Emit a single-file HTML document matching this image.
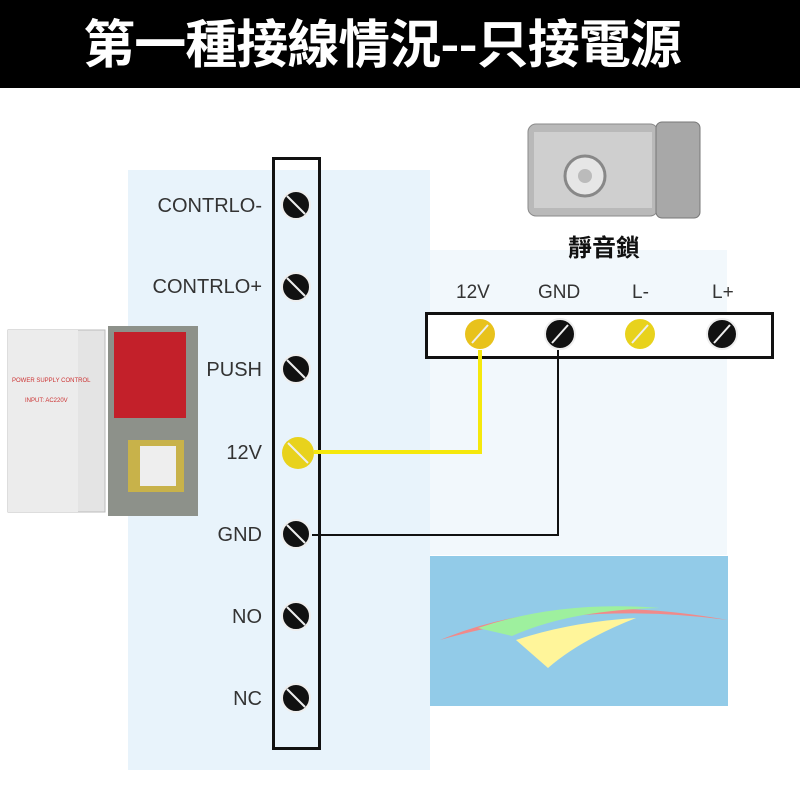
<!DOCTYPE html>
<html><head><meta charset="utf-8"><style>
body{margin:0;width:800px;height:800px;background:#fff;position:relative;overflow:hidden;font-family:"Liberation Sans","Noto Sans CJK TC",sans-serif}
.a{position:absolute}
.lab{position:absolute;font-size:20px;color:#333;text-align:right;width:140px}
</style></head><body>
<div class="a" style="left:0;top:0;width:800px;height:88px;background:#000"></div>
<div class="a" style="left:0;top:8px;width:764px;text-align:center;color:#fff;font-size:52px;font-weight:bold;font-family:'Noto Sans CJK TC',sans-serif;line-height:66px;letter-spacing:-1px">第一種接線情況--只接電源</div>
<div class="a" style="left:128px;top:170px;width:302px;height:600px;background:#e8f3fb"></div>
<div class="a" style="left:430px;top:250px;width:297px;height:305px;background:#f2f8fc"></div>
<div class="a" style="left:430px;top:556px;width:298px;height:150px;background:#92cbe8"></div>
<svg class="a" style="left:0;top:0" width="800" height="800">
<path d="M440 640 Q560 590 728 620 Q580 600 440 640Z" fill="#f08a8a"/>
<path d="M478 628 Q560 600 660 608 Q570 610 512 636Z" fill="#9ef09e"/>
<path d="M516 640 Q570 622 636 618 Q580 640 548 668Z" fill="#fff59a"/>
<rect x="528" y="124" width="130" height="92" rx="8" fill="#b9b9b9" stroke="#8a8a8a"/>
<rect x="534" y="132" width="118" height="76" fill="#cfcfcf"/>
<rect x="656" y="122" width="44" height="96" rx="6" fill="#a8a8a8" stroke="#777"/>
<circle cx="585" cy="176" r="20" fill="#e6e6e6" stroke="#888" stroke-width="3"/>
<circle cx="585" cy="176" r="7" fill="#bbb"/>
<rect x="8" y="330" width="97" height="182" fill="#e4e4e4" stroke="#bbb"/>
<rect x="8" y="330" width="70" height="182" fill="#ececec"/>
<text x="12" y="382" font-size="6" fill="#c33" font-family="Liberation Sans">POWER SUPPLY CONTROL</text>
<text x="25" y="402" font-size="6" fill="#c33" font-family="Liberation Sans">INPUT: AC220V</text>
<rect x="108" y="326" width="90" height="190" fill="#8d918a"/>
<rect x="114" y="332" width="72" height="86" fill="#c3202a"/>
<rect x="128" y="440" width="56" height="52" fill="#c8b24a"/>
<rect x="140" y="446" width="36" height="40" fill="#eee"/>
<rect x="273.5" y="158.5" width="46" height="590" fill="none" stroke="#111" stroke-width="3"/>
<g stroke="#eee" stroke-width="2">
<circle cx="296" cy="205" r="14" fill="#111"/><line x1="287" y1="196" x2="305" y2="214"/>
<circle cx="296" cy="287" r="14" fill="#111"/><line x1="287" y1="278" x2="305" y2="296"/>
<circle cx="296" cy="369" r="14" fill="#111"/><line x1="287" y1="360" x2="305" y2="378"/>
<circle cx="298" cy="453" r="16" fill="#e8d21c" stroke="none"/><line x1="288" y1="443" x2="308" y2="463"/>
<circle cx="296" cy="534" r="14" fill="#111"/><line x1="287" y1="525" x2="305" y2="543"/>
<circle cx="296" cy="616" r="14" fill="#111"/><line x1="287" y1="607" x2="305" y2="625"/>
<circle cx="296" cy="698" r="14" fill="#111"/><line x1="287" y1="689" x2="305" y2="707"/>
</g>
<rect x="426.5" y="313.5" width="346" height="44" fill="#fff" stroke="#111" stroke-width="3"/>
<g stroke="#eee" stroke-width="2">
<circle cx="480" cy="334" r="15" fill="#e8c21c" stroke="none"/><line x1="472" y1="343" x2="488" y2="325"/>
<circle cx="560" cy="334" r="15" fill="#111"/><line x1="552" y1="343" x2="568" y2="325"/>
<circle cx="640" cy="334" r="15" fill="#e8d21c" stroke="none"/><line x1="632" y1="343" x2="648" y2="325"/>
<circle cx="722" cy="334" r="15" fill="#111"/><line x1="714" y1="343" x2="730" y2="325"/>
</g>
<polyline points="314,452 480,452 480,350" fill="none" stroke="#f5e80c" stroke-width="4"/>
<polyline points="312,535 558,535 558,350" fill="none" stroke="#111" stroke-width="2"/>
</svg>
<div class="lab" style="left:122px;top:195px">CONTRLO-</div>
<div class="lab" style="left:122px;top:276px">CONTRLO+</div>
<div class="lab" style="left:122px;top:359px">PUSH</div>
<div class="lab" style="left:122px;top:442px">12V</div>
<div class="lab" style="left:122px;top:524px">GND</div>
<div class="lab" style="left:122px;top:606px">NO</div>
<div class="lab" style="left:122px;top:688px">NC</div>
<div class="a" style="left:456px;top:282px;font-size:19px;color:#333">12V</div>
<div class="a" style="left:538px;top:282px;font-size:19px;color:#333">GND</div>
<div class="a" style="left:632px;top:282px;font-size:19px;color:#333">L-</div>
<div class="a" style="left:712px;top:282px;font-size:19px;color:#333">L+</div>
<div class="a" style="left:568px;top:228px;font-size:24px;font-weight:bold;color:#111;font-family:'Noto Sans CJK TC',sans-serif">靜音鎖</div>
</body></html>
